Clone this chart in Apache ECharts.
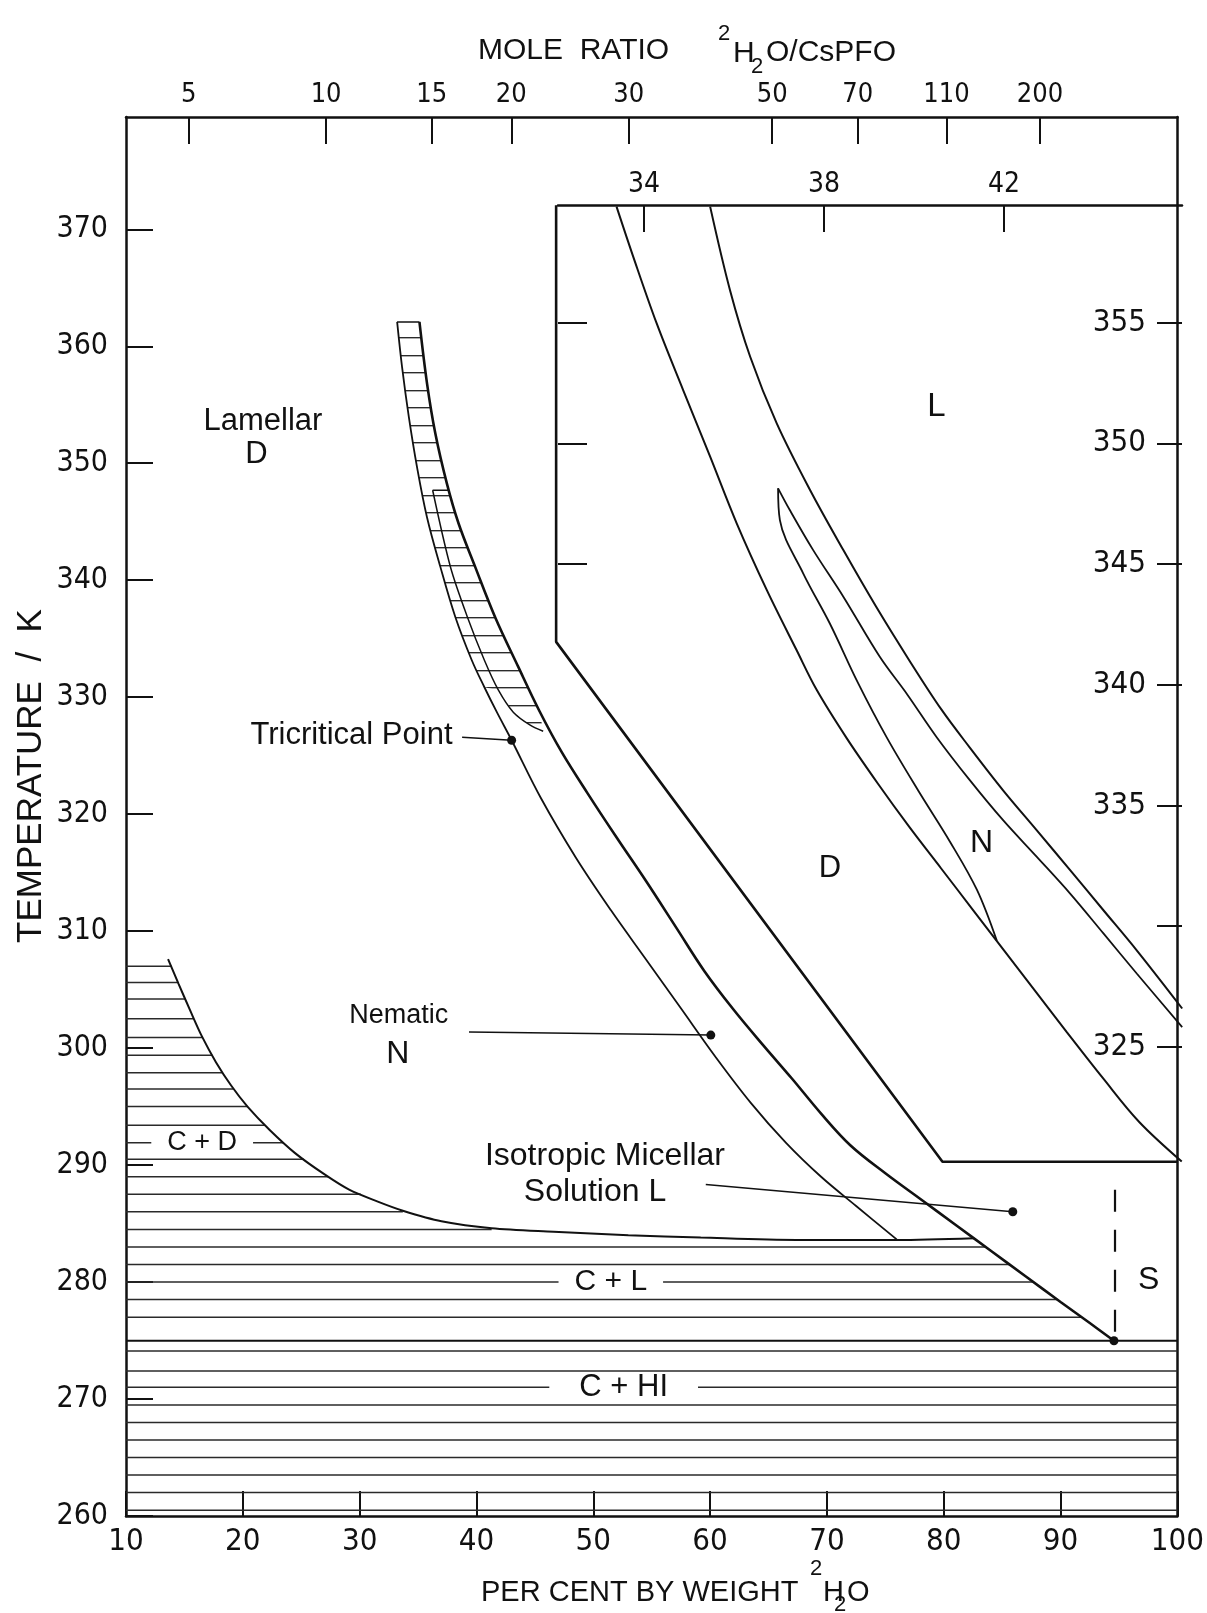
<!DOCTYPE html>
<html>
<head>
<meta charset="utf-8">
<title>CsPFO / 2H2O phase diagram</title>
<script src="https://cdn.jsdelivr.net/npm/echarts@6/dist/echarts.min.js"></script>
<style>
  html, body { margin: 0; padding: 0; background: #fff; }
  #main { width: 1207px; height: 1613px; }
</style>
</head>
<body>
<div id="main"></div>
<script>
// values: x = per cent by weight 2H2O, y = temperature / K

// main diagram boundaries
var crystalBoundary = [[13.6,307.6],[14.5,305.5],[15.5,303.2],[16.5,301.0],[17.7,298.8],[19.0,296.8],[20.4,295.0],[22.3,293.0],[24.5,291.0],[27.0,289.2],[29.1,287.9],[31.5,286.9],[33.7,286.1],[37.0,285.2],[41.3,284.6],[46.6,284.3],[53.0,284.0],[59.2,283.8],[67.4,283.6],[76.0,283.6],[82.6,283.75]];
var leftLine = [[33.21,362.08],[33.63,358.23],[34.21,353.96],[34.91,349.68],[35.76,345.41],[36.91,341.14],[38.19,336.86],[39.60,333.16],[40.68,330.85],[41.79,328.63],[43.01,326.32],[45.5,321.4],[48.5,316.3],[51.5,311.8],[54.5,307.6],[57.5,303.4],[60.5,299.2],[63.5,295.3],[66.5,291.9],[69.5,289.0],[72.5,286.5],[75.97,283.65]];
var middleLine = [[36.25,347.69],[37.78,341.11],[39.23,336.84],[40.68,333.16],[41.88,330.60],[43.15,328.72],[44.60,327.61],[45.71,327.09]];
var rightLine = [[35.12,362.08],[35.77,356.81],[36.48,352.54],[37.47,348.26],[38.47,344.85],[39.89,341.14],[41.59,336.86],[43.58,332.59],[45.4,328.8],[47.3,325.3],[49.5,321.8],[52.0,318.0],[54.5,314.3],[57.1,310.3],[59.5,306.6],[62.0,303.3],[64.5,300.3],[67.0,297.4],[69.5,294.4],[72.0,291.7],[75.0,289.3],[78.0,287.1],[81.0,284.9],[84.0,282.7],[87.0,280.5],[90.0,278.3],[92.5,276.5],[94.57,274.98]];
var topCap = [[33.21,362.08],[35.12,362.08]];
var middleCap = [[36.25,347.69],[37.64,347.69]];
var insetOutline = [[46.82,372.05],[46.82,334.73],[79.89,290.28],[100,290.28]];
var eutecticLine = [[10,274.98],[100,274.98]];
var sDashed = [[94.66,287.9],[94.66,275.6]];

// horizontal hatching of the crystal regions: level and right end (all start at 10 %)
var hatchLevels = [260.5,262.0,263.5,265.0,266.5,268.0,269.5,271.0,272.4,274.1,277.0,278.5,280.0,281.5,283.0,284.5,286.0,287.5,289.0,290.5,291.9,293.4,295.0,296.5,297.9,299.4,300.9,302.5,304.2,305.6,307.0];
var hatchEnds   = [100,100,100,100,100,100,100,100,100,100,91.8,89.7,87.7,85.6,83.6,41.3,33.7,30.1,27.3,25.2,23.5,21.9,20.4,19.2,18.3,17.4,16.55,15.8,15.07,14.46,13.9];

// marked points and their leader lines
var tricriticalPoint = [43.01,326.32];
var nematicPoint = [60.06,301.11];
var isotropicPoint = [85.91,286.01];
var sPoint = [94.57,274.98];
var tricriticalLeader = [[38.77,326.58],[43.01,326.32]];
var nematicLeader = [[39.36,301.37],[60.06,301.11]];
var isotropicLeader = [[59.63,288.35],[85.91,286.01]];

// magnified inset (its own scales: 32-46 %, 320-360 K)
var insetLeft = [[33.39,359.81],[33.76,357.74],[34.28,354.98],[34.87,352.21],[35.47,349.45],[36.06,346.69],[36.73,343.92],[37.39,341.44],[37.84,339.78],[38.5,337.8],[39.2,335.9],[39.9,334.1],[40.6,332.4],[41.3,330.7],[42.0,329.0],[42.7,327.3],[43.4,325.6],[44.2,323.7],[45.0,321.9],[45.95,320.25]];
var insetNematicLow = [[36.98,348.14],[37.02,346.82],[37.54,344.61],[38.13,342.54],[38.75,340.1],[39.4,337.8],[40.1,335.6],[40.8,333.5],[41.4,331.5],[41.84,329.4]];
var insetNematicHigh = [[36.98,348.14],[37.24,347.24],[37.76,345.58],[38.43,343.65],[39.24,341.16],[39.85,339.6],[40.50,337.84],[41.24,336.05],[41.98,334.39],[42.73,332.87],[43.47,331.35],[44.21,329.70],[44.95,328.04],[45.96,325.82]];
var insetRight = [[35.47,359.81],[35.91,356.36],[36.36,353.59],[36.95,350.83],[37.69,348.07],[38.43,345.58],[39.16,343.23],[39.9,341.0],[40.6,339.0],[41.24,337.4],[41.98,335.63],[42.73,333.97],[43.47,332.32],[44.21,330.66],[44.95,329.00],[45.96,326.59]];

// axis ticks
var weightTicks = [10,20,30,40,50,60,70,80,90,100];
var tempTicks = [260,270,280,290,300,310,320,330,340,350,360,370];
var moleRatioLabels = [5,10,15,20,30,50,70,110,200];
var moleRatioPos = [15.37,27.13,36.17,42.98,53.04,65.31,72.64,80.23,88.24];
var insetWeightTicks = [34,38,42];
var insetTempTicks = [325,330,335,340,345,350,355];
var insetTempLabels = [325,335,340,345,350,355];
var insetLeftTicks = [345,350,355];

// region names
var mainNotes = [
  {text:'Lamellar', x:21.72, y:353.59, size:31},
  {text:'D', x:21.17, y:350.73, size:31},
  {text:'Tricritical Point', x:37.95, y:326.7, size:31, align:'right'},
  {text:'Nematic', x:33.35, y:302.8, size:27},
  {text:'N', x:33.27, y:299.5, size:32},
  {text:'Isotropic Micellar', x:51.0, y:290.73, size:32},
  {text:'Solution L', x:50.15, y:287.7, size:32},
  {text:'C + D', x:16.52, y:291.9, size:27, gap:true},
  {text:'C + L', x:51.5, y:280.0, size:30, gap:true},
  {text:'C + HI', x:52.6, y:271.0, size:31, gap:true, wide:true},
  {text:'S', x:97.55, y:280.2, size:32}
];
var insetNotes = [
  {text:'L', x:40.5, y:351.5, size:33},
  {text:'N', x:41.5, y:333.43, size:32},
  {text:'D', x:38.13, y:332.4, size:31}
];

var INK = '#111';
var NUM_FONT = '"Liberation Sans Narrow", "DejaVu Sans Condensed", "Liberation Sans", sans-serif';
var TXT_FONT = '"Liberation Sans", "DejaVu Sans", sans-serif';

var chart = echarts.init(document.getElementById('main'));

// horizontal line tile for the hatched band (rows picked to sit on the figure's rungs)
var tile = document.createElement('canvas');
tile.width = 6; tile.height = 35;
var tg = tile.getContext('2d');
tg.fillStyle = 'rgba(20,20,20,0.9)';
tg.fillRect(0, 5, 6, 1); tg.fillRect(0, 22, 6, 1);
tg.fillStyle = 'rgba(20,20,20,0.35)';
tg.fillRect(0, 6, 6, 1); tg.fillRect(0, 23, 6, 1);
var hatchFill = { image: tile, repeat: 'repeat' };

// the two ladders of the band, outlined by the boundary curves
var bandUpper = leftLine.slice(0, 9)
  .concat(middleLine.slice(0, 5).reverse())
  .concat([middleCap[1]])
  .concat(rightLine.slice(0, 4).reverse());
var bandLower = middleLine.slice()
  .concat(rightLine.slice(4, 9).reverse())
  .concat([middleCap[1]]);

function curve(data, width, more) {
  var s = {
    type: 'line', data: data, symbol: 'none', silent: true, z: 3,
    xAxisIndex: 0, yAxisIndex: 0,
    lineStyle: { color: INK, width: width }
  };
  for (var k in more) s[k] = more[k];
  return s;
}

function inset(data, width) {
  return curve(data, width, { xAxisIndex: 2, yAxisIndex: 2, smooth: 0.35 });
}

function hatchPolygon(points) {
  return {
    type: 'custom', xAxisIndex: 0, yAxisIndex: 0, silent: true, z: 1,
    data: [points[0]],
    renderItem: function (params, api) {
      return {
        type: 'polygon',
        shape: { points: points.map(function (p) { return api.coord(p); }) },
        style: { fill: hatchFill, stroke: null }
      };
    }
  };
}

function notes(list, xi, yi) {
  return {
    type: 'scatter', xAxisIndex: xi, yAxisIndex: yi, silent: true, z: 6,
    symbolSize: 1, itemStyle: { color: 'rgba(0,0,0,0)', opacity: 1 },
    data: list.map(function (n) {
      return {
        value: [n.x, n.y],
        label: {
          show: true, position: 'inside', formatter: n.text,
          fontFamily: TXT_FONT, fontSize: n.size, color: INK, opacity: 1,
          align: n.align || 'center', verticalAlign: 'middle',
          lineHeight: n.gap ? Math.round(n.size * 0.8) : n.size,
          backgroundColor: n.gap ? '#fff' : 'transparent',
          padding: n.gap ? [0, n.wide ? 30 : 16] : 0
        }
      };
    })
  };
}

var moleLookup = {};
moleRatioPos.forEach(function (p, i) { moleLookup[p] = moleRatioLabels[i]; });

var axisInk = { color: INK, width: 2.5 };
var tickInk = { color: INK, width: 2 };

var option = {
  animation: false,
  backgroundColor: '#fff',
  textStyle: { fontFamily: TXT_FONT },
  grid: [
    { left: 126, right: 25, top: 117, bottom: 97 },
    { left: 558, right: 25, top: 205, bottom: 451 }
  ],
  xAxis: [
    {
      type: 'value', gridIndex: 0, position: 'bottom', min: 10, max: 100,
      axisLine: { onZero: false, lineStyle: axisInk },
      axisTick: { inside: true, length: 25, customValues: weightTicks, lineStyle: tickInk },
      axisLabel: { customValues: weightTicks, margin: 10, fontSize: 31, fontFamily: NUM_FONT, color: INK },
      splitLine: { show: false }
    },
    {
      type: 'value', gridIndex: 0, position: 'top', min: 10, max: 100,
      axisLine: { onZero: false, lineStyle: axisInk },
      axisTick: { inside: true, length: 27, customValues: moleRatioPos, lineStyle: tickInk },
      axisLabel: {
        customValues: moleRatioPos, margin: 9, fontSize: 27, fontFamily: NUM_FONT, color: INK,
        formatter: function (v) { return String(moleLookup[v]); }
      },
      splitLine: { show: false }
    },
    {
      type: 'value', gridIndex: 1, position: 'top', min: 32.089, max: 45.956,
      axisLine: { onZero: false, lineStyle: axisInk },
      axisTick: { inside: true, length: 27, customValues: insetWeightTicks, lineStyle: tickInk },
      axisLabel: { customValues: insetWeightTicks, margin: 6, fontSize: 28, fontFamily: NUM_FONT, color: INK },
      splitLine: { show: false }
    }
  ],
  yAxis: [
    {
      type: 'value', gridIndex: 0, position: 'left', min: 260, max: 379.6,
      axisLine: { onZero: false, lineStyle: axisInk },
      axisTick: { inside: true, length: 27, customValues: tempTicks, lineStyle: tickInk },
      axisLabel: { customValues: tempTicks, margin: 18, fontSize: 30, fontFamily: NUM_FONT, color: INK },
      splitLine: { show: false }
    },
    {
      type: 'value', gridIndex: 0, position: 'right', min: 260, max: 379.6,
      axisLine: { onZero: false, lineStyle: axisInk },
      axisTick: { show: false }, axisLabel: { show: false }, splitLine: { show: false }
    },
    {
      type: 'value', gridIndex: 1, position: 'right', min: 320.23, max: 359.878,
      axisLine: { show: false },
      axisTick: { inside: true, length: 25, customValues: insetTempTicks, lineStyle: tickInk },
      axisLabel: { inside: true, customValues: insetTempLabels, margin: 36, fontSize: 31, fontFamily: NUM_FONT, color: INK },
      splitLine: { show: false }
    },
    {
      type: 'value', gridIndex: 1, position: 'left', min: 320.23, max: 359.878,
      axisLine: { show: false },
      axisTick: { inside: true, length: 29, customValues: insetLeftTicks, lineStyle: tickInk },
      axisLabel: { show: false }, splitLine: { show: false }
    }
  ],
  series: [
    {
      type: 'custom', xAxisIndex: 0, yAxisIndex: 0, silent: true, z: 1,
      encode: { x: [0, 2], y: 1 },
      data: hatchLevels.map(function (t, i) { return [10, t, hatchEnds[i]]; }),
      renderItem: function (params, api) {
        var a = api.coord([api.value(0), api.value(1)]);
        var b = api.coord([api.value(2), api.value(1)]);
        return {
          type: 'line',
          shape: { x1: a[0], y1: a[1], x2: b[0], y2: b[1] },
          style: { stroke: '#2a2a2a', lineWidth: 1.5 }
        };
      }
    },
    hatchPolygon(bandUpper),
    hatchPolygon(bandLower),
    curve(crystalBoundary, 2, { smooth: 0.3 }),
    curve(leftLine, 1.8, { smooth: 0.35 }),
    curve(middleLine, 1.5, { smooth: 0.3 }),
    curve(rightLine, 2.6, { smooth: 0.35 }),
    curve(topCap, 1.6),
    curve(middleCap, 1.4),
    curve(insetOutline, 2.6),
    curve(eutecticLine, 2),
    curve(sDashed, 2.2, { lineStyle: { color: INK, width: 2.2, type: [22, 18] } }),
    curve(tricriticalLeader, 1.5),
    curve(nematicLeader, 1.5),
    curve(isotropicLeader, 1.5),
    {
      type: 'scatter', xAxisIndex: 0, yAxisIndex: 0, silent: true, z: 5,
      symbolSize: 9, itemStyle: { color: INK, opacity: 1 },
      data: [tricriticalPoint, nematicPoint, isotropicPoint, sPoint]
    },
    notes(mainNotes, 0, 0),
    inset(insetLeft, 2),
    inset(insetNematicLow, 1.8),
    inset(insetNematicHigh, 1.8),
    inset(insetRight, 2),
    notes(insetNotes, 2, 2)
  ],
  graphic: [
    { type: 'text', x: 478, y: 51, style: { text: 'MOLE  RATIO', fontSize: 30, fontFamily: TXT_FONT, fill: INK, verticalAlign: 'middle' } },
    { type: 'text', x: 724, y: 34, style: { text: '2', fontSize: 22, fontFamily: TXT_FONT, fill: INK, align: 'center', verticalAlign: 'middle' } },
    { type: 'text', x: 733, y: 54, style: { text: 'H', fontSize: 30, fontFamily: TXT_FONT, fill: INK, verticalAlign: 'middle' } },
    { type: 'text', x: 757, y: 67, style: { text: '2', fontSize: 22, fontFamily: TXT_FONT, fill: INK, align: 'center', verticalAlign: 'middle' } },
    { type: 'text', x: 766, y: 53, style: { text: 'O/CsPFO', fontSize: 30, fontFamily: TXT_FONT, fill: INK, verticalAlign: 'middle' } },
    { type: 'text', x: 481, y: 1593, style: { text: 'PER CENT BY WEIGHT', fontSize: 29, fontFamily: TXT_FONT, fill: INK, verticalAlign: 'middle' } },
    { type: 'text', x: 816, y: 1569, style: { text: '2', fontSize: 22, fontFamily: TXT_FONT, fill: INK, align: 'center', verticalAlign: 'middle' } },
    { type: 'text', x: 823, y: 1593, style: { text: 'H', fontSize: 29, fontFamily: TXT_FONT, fill: INK, verticalAlign: 'middle' } },
    { type: 'text', x: 840, y: 1605, style: { text: '2', fontSize: 22, fontFamily: TXT_FONT, fill: INK, align: 'center', verticalAlign: 'middle' } },
    { type: 'text', x: 847, y: 1593, style: { text: 'O', fontSize: 29, fontFamily: TXT_FONT, fill: INK, verticalAlign: 'middle' } },
    { type: 'text', x: 31, y: 776, rotation: Math.PI / 2, style: { text: 'TEMPERATURE  /  K', fontSize: 35, fontFamily: TXT_FONT, fill: INK, align: 'center', verticalAlign: 'middle' } }
  ]
};

chart.setOption(option);
</script>
</body>
</html>
